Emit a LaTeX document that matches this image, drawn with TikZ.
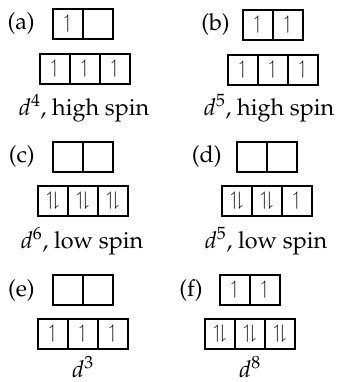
\documentclass[tikz,border=0pt]{standalone}
\usepackage[T1]{fontenc}
\usepackage{mathpazo}
\usepackage{amssymb}
\usetikzlibrary{positioning}

\newcommand{\spinup}{{\fontsize{14}{16}\selectfont$\upharpoonleft$}}
\newcommand{\spinpair}{{\fontsize{14}{16}\selectfont$\upharpoonleft\!\downharpoonright$}}

\begin{document}
\begin{tikzpicture}[x=0.75pt, y=-0.75pt, font=\fontsize{17.5}{20}\selectfont,
    orb/.style={draw, line width=0.9pt, minimum width=22.5pt, minimum height=22.5pt, inner sep=0pt, outer sep=0pt},
    tag/.style={anchor=east, inner sep=0pt},
    caption/.style={anchor=base, inner sep=0pt}]
    \useasboundingbox (0,0) rectangle (339,382);

    % (a) d4 high spin
    \node[tag] (a-lab) at (35,24) {(a)};
    \node[orb] (a-t1) at (68,24) {\spinup};
    \node[orb, right=0pt of a-t1] (a-t2) {};
    \node[orb] (a-b1) at (55,69) {\spinup};
    \node[orb, right=0pt of a-b1] (a-b2) {\spinup};
    \node[orb, right=0pt of a-b2] (a-b3) {\spinup};
    \node[caption] (a-txt) at (84,115) {$d^4$, high spin};

    % (b) d5 high spin
    \node[tag] (b-lab) at (230,25) {(b)};
    \node[orb] (b-t1) at (258,25) {\spinup};
    \node[orb, right=0pt of b-t1] (b-t2) {\spinup};
    \node[orb] (b-b1) at (243,70) {\spinup};
    \node[orb, right=0pt of b-b1] (b-b2) {\spinup};
    \node[orb, right=0pt of b-b2] (b-b3) {\spinup};
    \node[caption] (b-txt) at (269,115) {$d^5$, high spin};

    % (c) d6 low spin
    \node[tag] (c-lab) at (35,157) {(c)};
    \node[orb] (c-t1) at (68,157) {};
    \node[orb, right=0pt of c-t1] (c-t2) {};
    \node[orb] (c-b1) at (53,201) {\spinpair};
    \node[orb, right=0pt of c-b1] (c-b2) {\spinpair};
    \node[orb, right=0pt of c-b2] (c-b3) {\spinpair};
    \node[caption] (c-txt) at (82,248) {$d^6$, low spin};

    % (d) d5 low spin
    \node[tag] (d-lab) at (222,157) {(d)};
    \node[orb] (d-t1) at (252,157) {};
    \node[orb, right=0pt of d-t1] (d-t2) {};
    \node[orb] (d-b1) at (237,201) {\spinpair};
    \node[orb, right=0pt of d-b1] (d-b2) {\spinpair};
    \node[orb, right=0pt of d-b2] (d-b3) {\spinup};
    \node[caption] (d-txt) at (266,248) {$d^5$, low spin};

    % (e) d3
    \node[tag] (e-lab) at (35,290) {(e)};
    \node[orb] (e-t1) at (68,290) {};
    \node[orb, right=0pt of e-t1] (e-t2) {};
    \node[orb] (e-b1) at (53,334) {\spinup};
    \node[orb, right=0pt of e-b1] (e-b2) {\spinup};
    \node[orb, right=0pt of e-b2] (e-b3) {\spinup};
    \node[caption] (e-txt) at (83,377) {$d^3$};

    % (f) d8
    \node[tag] (f-lab) at (203,290) {(f)};
    \node[orb] (f-t1) at (235,290) {\spinup};
    \node[orb, right=0pt of f-t1] (f-t2) {\spinup};
    \node[orb] (f-b1) at (220,334) {\spinpair};
    \node[orb, right=0pt of f-b1] (f-b2) {\spinpair};
    \node[orb, right=0pt of f-b2] (f-b3) {\spinpair};
    \node[caption] (f-txt) at (250,377) {$d^8$};
\end{tikzpicture}
\end{document}
